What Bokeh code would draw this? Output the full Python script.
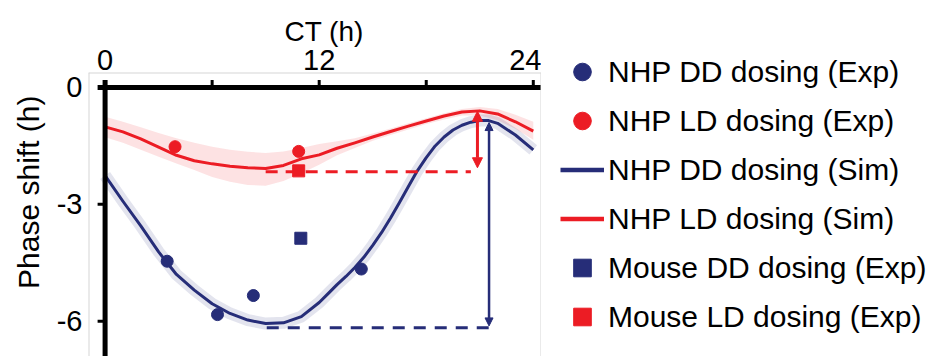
from bokeh.plotting import figure
from bokeh.layouts import row
from bokeh.models import (Range1d, FixedTicker, Legend, LegendItem, Arrow,
                          NormalHead, Title, Span)
from bokeh.embed import file_html
from bokeh.resources import INLINE

FONT = "Liberation Sans"
NAVY = "#262d78"
RED = "#ec1c24"
FRAME_GRAY = "#d6d6d6"

# ---------------- data ----------------
dd_ct = [0, 1, 2, 3, 4, 5, 6, 7, 8, 9, 10, 11, 12, 12.5, 13, 13.5, 14, 14.5,
         15, 15.5, 16, 16.5, 17, 17.5, 18, 18.5, 19, 19.5, 20, 20.5, 21, 21.5,
         22, 23, 24]
nhp_dd_sim = [-2.26, -2.92, -3.55, -4.22, -4.80, -5.20, -5.55, -5.80, -5.97,
              -6.06, -6.04, -5.88, -5.52, -5.29, -5.06, -4.85, -4.62, -4.36,
              -4.05, -3.72, -3.35, -2.95, -2.54, -2.14, -1.80, -1.50, -1.27,
              -1.09, -0.97, -0.89, -0.85, -0.85, -0.92, -1.22, -1.60]

ld_ct = [0, 1, 2, 3, 4, 5, 6, 7, 8, 9, 10, 11, 12,
         13, 14, 15, 16, 17, 18, 19, 20, 21, 22, 23, 24]
nhp_ld_sim = [-1.01, -1.14, -1.32, -1.53, -1.74, -1.88, -1.96, -2.02, -2.06,
              -2.08, -2.00, -1.83, -1.73, -1.56, -1.42, -1.27, -1.13, -0.99,
              -0.86, -0.73, -0.63, -0.60, -0.68, -0.88, -1.12]
nhp_ld_upper = [-0.75, -0.88, -1.02, -1.17, -1.30, -1.42, -1.52, -1.60, -1.65,
                -1.68, -1.64, -1.55, -1.45, -1.38, -1.30, -1.18, -1.05, -0.92,
                -0.79, -0.66, -0.55, -0.50, -0.55, -0.70, -0.88]
nhp_ld_lower = [-1.28, -1.42, -1.60, -1.78, -1.95, -2.12, -2.30, -2.42, -2.50,
                -2.52, -2.40, -2.20, -1.98, -1.74, -1.55, -1.37, -1.22, -1.08,
                -0.94, -0.82, -0.72, -0.72, -0.84, -1.06, -1.34]

nhp_dd_ct = [3.48, 6.30, 8.31, 14.36]
nhp_dd_shift = [-4.46, -5.83, -5.34, -4.66]
nhp_ld_ct = [3.92, 10.85]
nhp_ld_shift = [-1.52, -1.64]
mouse_dd_ct = [10.97]
mouse_dd_shift = [-3.87]
mouse_ld_ct = [10.85]
mouse_ld_shift = [-2.14]

# reference levels (dashed) and amplitude arrows
level_ct_start = [9.00, 9.06]
level_ct_end = [20.50, 21.50]
level_shift = [-2.16, -6.17]
arrow_ct = [20.87, 21.52]
arrow_top = [-0.61, -0.90]
arrow_bottom = [-2.06, -6.12]

x_ticks = [0, 6, 12, 18, 24]
x_tick_labels = [0, 12, 24]
y_ticks = [0, -3, -6]
y_tick_text = {0: "0", -3: "-3", -6: "-6"}

legend_labels = ["NHP DD dosing (Exp)", "NHP LD dosing (Exp)",
                 "NHP DD dosing (Sim)", "NHP LD dosing (Sim)",
                 "Mouse DD dosing (Exp)", "Mouse LD dosing (Exp)"]

x_lo, x_hi = -0.93, 24.46
y_lo, y_hi = -6.905, 0.385

# ---------------- main figure ----------------
p = figure(width=541, height=356, x_axis_location="above",
           x_range=Range1d(x_lo, x_hi), y_range=Range1d(y_lo, y_hi),
           output_backend="svg", toolbar_location=None,
           min_border_left=86, min_border_right=0,
           min_border_top=72, min_border_bottom=0)
p.grid.visible = False
p.outline_line_color = None

xa = p.xaxis[0]
xa.ticker = FixedTicker(ticks=x_tick_labels)
ya = p.yaxis[0]
ya.ticker = FixedTicker(ticks=y_ticks)
ya.major_label_overrides = y_tick_text
for ax in (xa, ya):
    ax.axis_line_color = None
    ax.major_tick_line_color = None
    ax.minor_tick_line_color = None
    ax.major_tick_out = 0
    ax.major_tick_in = 0
    ax.major_label_text_font = FONT
    ax.major_label_text_font_size = "29px"
    ax.major_label_text_color = "black"
xa.major_label_standoff = 3
ya.major_label_standoff = 6

p.title.text = "CT (h)"
p.title.align = "left"
p.title.offset = 196
p.title.standoff = 0
p.title.text_font = FONT
p.title.text_font_size = "28px"
p.title.text_font_style = "normal"
p.title.text_color = "black"

ylab = Title(text="Phase shift (h)", align="right", offset=23, standoff=18,
             text_font=FONT, text_font_size="30px", text_font_style="normal",
             text_color="black")
p.add_layout(ylab, "left")

# light grey box around the axes area (open at the cut bottom)
p.add_layout(Span(location=x_lo, dimension="height", line_color=FRAME_GRAY,
                  line_width=2))
p.add_layout(Span(location=x_hi, dimension="height", line_color=FRAME_GRAY,
                  line_width=2))
p.add_layout(Span(location=y_hi, dimension="width", line_color=FRAME_GRAY,
                  line_width=2))

# bands
p.varea(x=ld_ct, y1=nhp_ld_lower, y2=nhp_ld_upper, fill_color=RED,
        fill_alpha=0.13)
p.line(dd_ct, nhp_dd_sim, line_color=NAVY, line_alpha=0.13, line_width=12,
       line_join="round", line_cap="butt")

# simulated curves
p.line(dd_ct, nhp_dd_sim, line_color=NAVY, line_width=3, line_join="round")
p.line(ld_ct, nhp_ld_sim, line_color=RED, line_width=3, line_join="round")

# dashed reference levels
p.segment(x0=[level_ct_start[0]], y0=[level_shift[0]], x1=[level_ct_end[0]],
          y1=[level_shift[0]], line_color=RED, line_width=3, line_dash="12 8")
p.segment(x0=[level_ct_start[1]], y0=[level_shift[1]], x1=[level_ct_end[1]],
          y1=[level_shift[1]], line_color=NAVY, line_width=3, line_dash="12 9")

# arrows
p.add_layout(Arrow(x_start=arrow_ct[0], y_start=arrow_top[0],
                   x_end=arrow_ct[0], y_end=arrow_bottom[0],
                   line_color=RED, line_width=3,
                   start=NormalHead(size=10, fill_color=RED, line_color=RED, line_width=1),
                   end=NormalHead(size=10, fill_color=RED, line_color=RED, line_width=1)))
p.add_layout(Arrow(x_start=arrow_ct[1], y_start=arrow_top[1],
                   x_end=arrow_ct[1], y_end=arrow_bottom[1],
                   line_color=NAVY, line_width=2.5,
                   start=NormalHead(size=8, fill_color=NAVY, line_color=NAVY, line_width=1),
                   end=NormalHead(size=8, fill_color=NAVY, line_color=NAVY, line_width=1)))

# experimental points
p.scatter(nhp_dd_ct, nhp_dd_shift, marker="circle", size=12, color=NAVY)
p.scatter(nhp_ld_ct, nhp_ld_shift, marker="circle", size=12, color=RED)
p.scatter(mouse_dd_ct, mouse_dd_shift, marker="square", size=12, color=NAVY)
p.scatter(mouse_ld_ct, mouse_ld_shift, marker="square", size=12, color=RED)

# axis lines drawn inside the data area (axes cross at CT 0 / shift 0)
tick_len_y = 0.19
tick_len_x = 0.42
p.segment(x0=x_ticks, y0=[0] * len(x_ticks), x1=x_ticks,
          y1=[tick_len_y] * len(x_ticks), line_color="black", line_width=3)
p.segment(x0=[-tick_len_x] * 2, y0=y_ticks[1:], x1=[0] * 2, y1=y_ticks[1:],
          line_color="black", line_width=3)
p.segment(x0=[-tick_len_x], y0=[0], x1=[x_hi], y1=[0], line_color="black",
          line_width=5)
p.segment(x0=[0], y0=[tick_len_y], x1=[0], y1=[y_lo], line_color="black",
          line_width=5)

# ---------------- legend panel (beside the axes) ----------------
# legend keys carry the same series; the panel's ranges keep them off-view
lg = figure(width=394, height=356, x_range=Range1d(100, 101),
            y_range=Range1d(100, 101),
            output_backend="svg", toolbar_location=None,
            x_axis_location=None, y_axis_location=None,
            min_border_left=0, min_border_right=0,
            min_border_top=0, min_border_bottom=0)
lg.grid.visible = False
lg.outline_line_color = None
for fig in (p, lg):
    if "frame_align" in fig.properties():
        fig.frame_align = False
k_dd = lg.scatter(nhp_dd_ct, nhp_dd_shift, marker="circle", color=NAVY)
k_ld = lg.scatter(nhp_ld_ct, nhp_ld_shift, marker="circle", color=RED)
k_dd_sim = lg.line(dd_ct, nhp_dd_sim, line_color=NAVY, line_width=4.5)
k_ld_sim = lg.line(ld_ct, nhp_ld_sim, line_color=RED, line_width=4.5)
k_mdd = lg.scatter(mouse_dd_ct, mouse_dd_shift, marker="square", color=NAVY)
k_mld = lg.scatter(mouse_ld_ct, mouse_ld_shift, marker="square", color=RED)
keys = [k_dd, k_ld, k_dd_sim, k_ld_sim, k_mdd, k_mld]

legend = Legend(items=[LegendItem(label=lab, renderers=[r])
                       for lab, r in zip(legend_labels, keys)],
                location=(19, 17), glyph_width=44, glyph_height=45, spacing=4,
                padding=0, margin=0, label_standoff=4, label_text_font=FONT,
                label_text_font_size="30px", label_text_color="black",
                background_fill_alpha=0, border_line_color=None)
lg.add_layout(legend)

layout = row(p, lg, spacing=0)
open("out.html", "w").write(file_html(layout, INLINE))
